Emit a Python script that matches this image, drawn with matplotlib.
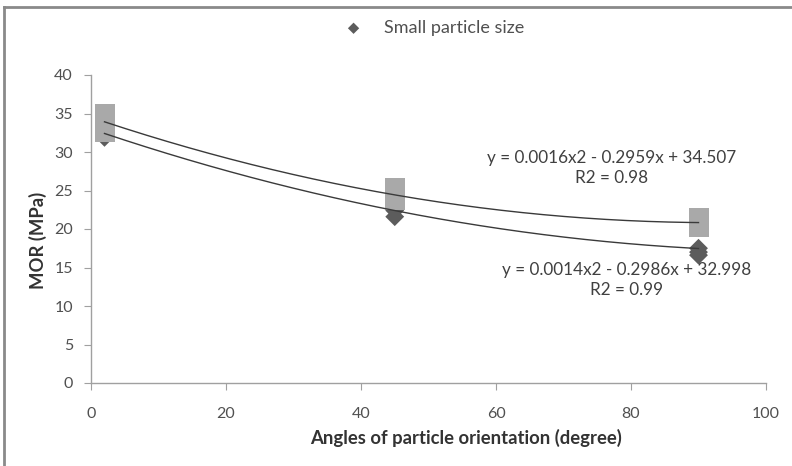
import matplotlib
matplotlib.use("Agg")
import matplotlib.pyplot as plt
from matplotlib.lines import Line2D
import numpy as np

plt.rcParams['font.family'] = ['Lato', 'DejaVu Sans']

large_x = [2, 2, 2, 2, 45, 45, 45, 90, 90, 90]
large_y = [35.0, 34.2, 33.4, 32.6, 25.3, 24.6, 23.8, 21.4, 20.8, 20.2]
small_x = [2, 2, 2, 45, 45, 45, 90, 90, 90]
small_y = [33.0, 32.4, 31.9, 23.2, 22.4, 21.6, 17.5, 17.0, 16.6]

# Trendline coefficients (as printed on the chart)
coef_upper = [0.0016, -0.2959, 34.507]
coef_lower = [0.0014, -0.2986, 32.998]
label_upper = "y = 0.0016x2 - 0.2959x + 34.507\nR2 = 0.98"
label_lower = "y = 0.0014x2 - 0.2986x + 32.998\nR2 = 0.99"
legend_label = "Small particle size"

fig = plt.figure(figsize=(7.92, 4.66), dpi=100)
ax = fig.add_axes([91/792, 83/466, (766-91)/792, (383-75)/466])

ax.scatter(small_x, small_y, marker='D', s=(9.6)**2, color='#5c5c5c',
           edgecolors='none', zorder=3, label=legend_label)
ax.scatter(large_x, large_y, marker='s', s=(14.4)**2, color='#a9a9a9',
           edgecolors='none', zorder=4)

xx = np.linspace(2, 90, 200)
ax.plot(xx, np.polyval(coef_upper, xx), color='#3a3a3a', lw=1.0, zorder=5)
ax.plot(xx, np.polyval(coef_lower, xx), color='#3a3a3a', lw=1.0, zorder=5)

ax.set_xlim(0, 100)
ax.set_ylim(0, 40)
ax.set_xticks(range(0, 101, 20))
ax.set_yticks(range(0, 41, 5))
for s in ['top', 'right']:
    ax.spines[s].set_visible(False)
for s in ['left', 'bottom']:
    ax.spines[s].set_color('#a0a0a0')
    ax.spines[s].set_linewidth(1.0)
ax.tick_params(axis='both', colors='#a0a0a0', labelcolor='#505050',
               labelsize=11.5, length=5, direction='out')
ax.tick_params(axis='x', pad=12)
ax.tick_params(axis='y', pad=8)

ax.set_xlabel("Angles of particle orientation (degree)", fontsize=13.3,
              fontweight='bold', color='#333333')
ax.set_ylabel("MOR (MPa)", fontsize=13.3, fontweight='bold', color='#333333')
ax.xaxis.set_label_coords((466-91)/675, -(438-383)/308)
ax.yaxis.set_label_coords(-(91-38)/675, (383-240)/308)
ax.xaxis.label.set_verticalalignment('center')
ax.yaxis.label.set_verticalalignment('center')

ax.text(612/792, (466-168)/466, label_upper, transform=fig.transFigure,
        ha='center', va='center', fontsize=12.3, color='#404040',
        linespacing=1.25)
ax.text(627/792, (466-280)/466, label_lower, transform=fig.transFigure,
        ha='center', va='center', fontsize=12.3, color='#404040',
        linespacing=1.25)

leg = fig.legend(loc='center', bbox_to_anchor=(430/792, (466-28)/466),
                 frameon=False, fontsize=13, handletextpad=0.7,
                 markerscale=0.6)
for t in leg.get_texts():
    t.set_color('#505050')

# figure frame fragments (top and left)
fig.add_artist(Line2D([4/792, 4/792], [0, (466-7)/466], color='#8a8a8a', lw=2,
                      transform=fig.transFigure))
fig.add_artist(Line2D([4/792, 1], [(466-7)/466, (466-7)/466], color='#8a8a8a',
                      lw=2, transform=fig.transFigure))

fig.savefig("out.png", dpi=100, facecolor='white')
